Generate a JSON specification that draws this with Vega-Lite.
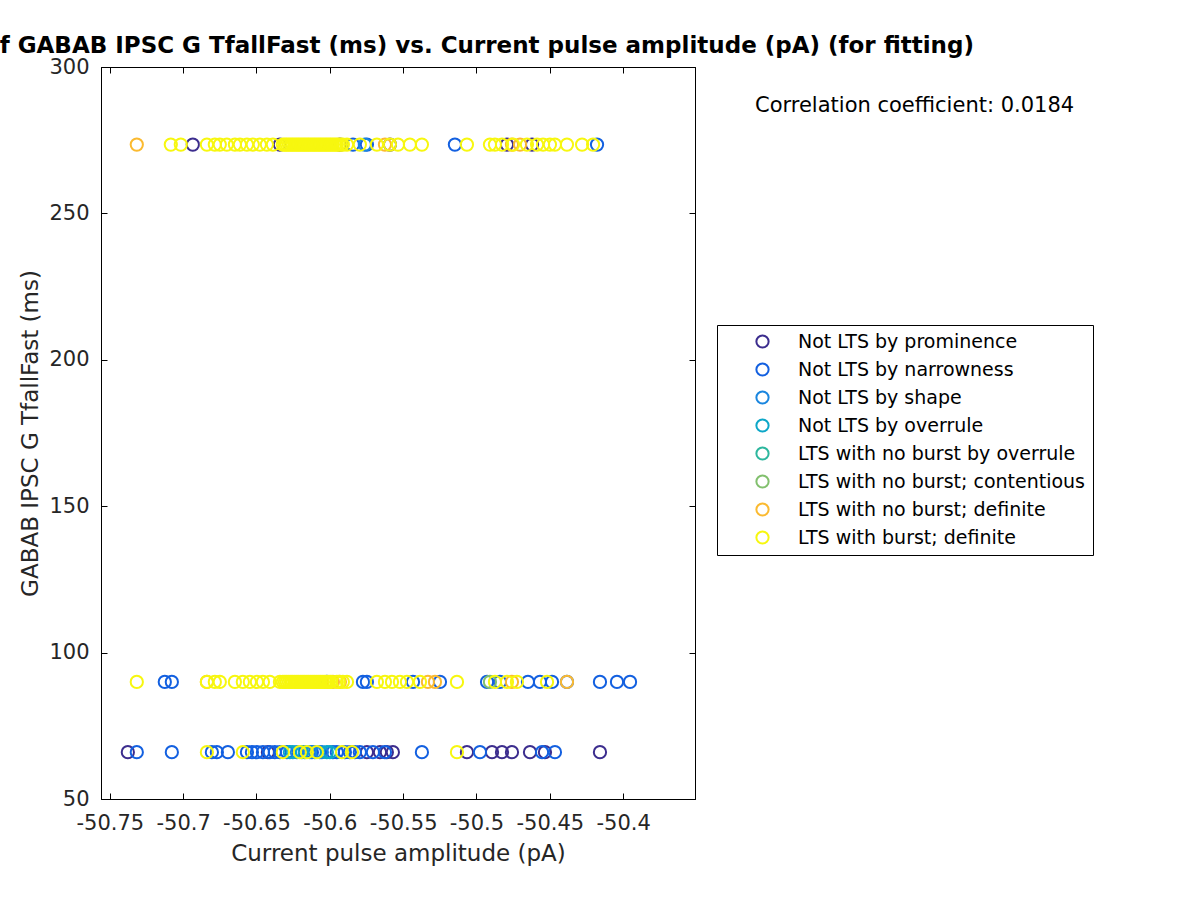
{
  "$schema": "https://vega.github.io/schema/vega-lite/v6.json",
  "width": 594,
  "height": 732,
  "autosize": {"type": "none"},
  "padding": {"left": 101, "top": 67, "right": 505, "bottom": 101},
  "background": "white",
  "title": {"text": "Scatter plot of GABAB IPSC G TfallFast (ms) vs. Current pulse amplitude (pA) (for fitting)", "fontSize": 23, "fontWeight": "bold", "font": "DejaVu Sans", "anchor": "middle", "frame": "group", "offset": -2, "color": "black"},
  "config": {
    "font": "DejaVu Sans",
    "view": {"stroke": "black", "strokeWidth": 1},
    "axis": {"grid": false, "domainColor": "black", "tickColor": "black", "labelColor": "#262626", "titleColor": "#262626", "labelFontSize": 21, "titleFontSize": 23, "titleFontWeight": "normal", "tickSize": -6}
  },
  "datasets": {
    "cats": [
      {"k": 1, "c": "Not LTS by prominence"},
      {"k": 2, "c": "Not LTS by narrowness"},
      {"k": 3, "c": "Not LTS by shape"},
      {"k": 4, "c": "Not LTS by overrule"},
      {"k": 5, "c": "LTS with no burst by overrule"},
      {"k": 6, "c": "LTS with no burst; contentious"},
      {"k": 7, "c": "LTS with no burst; definite"},
      {"k": 8, "c": "LTS with burst; definite"}
    ],
    "pts": [
      {"x": -50.6934, "y": 273.5, "k": 1}, {"x": -50.634, "y": 273.5, "k": 1}, {"x": -50.5931, "y": 273.5, "k": 1}, {"x": -50.559, "y": 273.5, "k": 1}, {"x": -50.4792, "y": 273.5, "k": 1}, {"x": -50.4621, "y": 273.5, "k": 1},
      {"x": -50.7377, "y": 66, "k": 1}, {"x": -50.6422, "y": 66, "k": 1}, {"x": -50.5747, "y": 66, "k": 1}, {"x": -50.5658, "y": 66, "k": 1}, {"x": -50.5611, "y": 66, "k": 1}, {"x": -50.557, "y": 66, "k": 1}, {"x": -50.5065, "y": 66, "k": 1}, {"x": -50.4894, "y": 66, "k": 1}, {"x": -50.4826, "y": 66, "k": 1}, {"x": -50.4758, "y": 66, "k": 1}, {"x": -50.4635, "y": 66, "k": 1}, {"x": -50.4533, "y": 66, "k": 1}, {"x": -50.4158, "y": 66, "k": 1},
      {"x": -50.5842, "y": 273.5, "k": 2}, {"x": -50.5747, "y": 273.5, "k": 2}, {"x": -50.5147, "y": 273.5, "k": 2}, {"x": -50.4178, "y": 273.5, "k": 2},
      {"x": -50.7125, "y": 90, "k": 2}, {"x": -50.7077, "y": 90, "k": 2}, {"x": -50.602, "y": 90, "k": 2}, {"x": -50.5774, "y": 90, "k": 2}, {"x": -50.5747, "y": 90, "k": 2}, {"x": -50.5433, "y": 90, "k": 2}, {"x": -50.5249, "y": 90, "k": 2}, {"x": -50.4928, "y": 90, "k": 2}, {"x": -50.484, "y": 90, "k": 2}, {"x": -50.4649, "y": 90, "k": 2}, {"x": -50.4567, "y": 90, "k": 2}, {"x": -50.4485, "y": 90, "k": 2}, {"x": -50.4383, "y": 90, "k": 2}, {"x": -50.4158, "y": 90, "k": 2}, {"x": -50.4042, "y": 90, "k": 2}, {"x": -50.3953, "y": 90, "k": 2},
      {"x": -50.7316, "y": 66, "k": 2}, {"x": -50.7077, "y": 66, "k": 2}, {"x": -50.6804, "y": 66, "k": 2}, {"x": -50.677, "y": 66, "k": 2}, {"x": -50.6695, "y": 66, "k": 2}, {"x": -50.6565, "y": 66, "k": 2}, {"x": -50.6531, "y": 66, "k": 2}, {"x": -50.6497, "y": 66, "k": 2}, {"x": -50.6456, "y": 66, "k": 2}, {"x": -50.6409, "y": 66, "k": 2}, {"x": -50.6375, "y": 66, "k": 2}, {"x": -50.634, "y": 66, "k": 2}, {"x": -50.6292, "y": 66, "k": 2}, {"x": -50.617, "y": 66, "k": 2}, {"x": -50.6122, "y": 66, "k": 2}, {"x": -50.6068, "y": 66, "k": 2}, {"x": -50.5979, "y": 66, "k": 2}, {"x": -50.5952, "y": 66, "k": 2}, {"x": -50.5897, "y": 66, "k": 2}, {"x": -50.5863, "y": 66, "k": 2}, {"x": -50.5795, "y": 66, "k": 2}, {"x": -50.5829, "y": 66, "k": 2}, {"x": -50.5706, "y": 66, "k": 2}, {"x": -50.5624, "y": 66, "k": 2}, {"x": -50.5372, "y": 66, "k": 2}, {"x": -50.4976, "y": 66, "k": 2}, {"x": -50.4553, "y": 66, "k": 2}, {"x": -50.4465, "y": 66, "k": 2},
      {"x": -50.5761, "y": 273.5, "k": 3},
      {"x": -50.6224, "y": 66, "k": 3}, {"x": -50.6136, "y": 66, "k": 3}, {"x": -50.6102, "y": 66, "k": 3}, {"x": -50.6054, "y": 66, "k": 3},
      {"x": -50.6272, "y": 66, "k": 4}, {"x": -50.6252, "y": 66, "k": 4}, {"x": -50.619, "y": 66, "k": 4}, {"x": -50.602, "y": 66, "k": 4}, {"x": -50.5999, "y": 66, "k": 4},
      {"x": -50.4908, "y": 90, "k": 6},
      {"x": -50.7316, "y": 273.5, "k": 7}, {"x": -50.5624, "y": 273.5, "k": 7}, {"x": -50.4758, "y": 273.5, "k": 7}, {"x": -50.4703, "y": 273.5, "k": 7},
      {"x": -50.6838, "y": 90, "k": 7}, {"x": -50.5979, "y": 90, "k": 7}, {"x": -50.5931, "y": 90, "k": 7}, {"x": -50.5331, "y": 90, "k": 7}, {"x": -50.5283, "y": 90, "k": 7}, {"x": -50.4758, "y": 90, "k": 7}, {"x": -50.4383, "y": 90, "k": 7},
      {"x": -50.7084, "y": 273.5, "k": 8}, {"x": -50.7016, "y": 273.5, "k": 8}, {"x": -50.6838, "y": 273.5, "k": 8}, {"x": -50.6784, "y": 273.5, "k": 8}, {"x": -50.675, "y": 273.5, "k": 8}, {"x": -50.6702, "y": 273.5, "k": 8}, {"x": -50.6647, "y": 273.5, "k": 8}, {"x": -50.6613, "y": 273.5, "k": 8}, {"x": -50.6565, "y": 273.5, "k": 8}, {"x": -50.6525, "y": 273.5, "k": 8}, {"x": -50.6477, "y": 273.5, "k": 8}, {"x": -50.6429, "y": 273.5, "k": 8}, {"x": -50.6388, "y": 273.5, "k": 8},
      {"x": -50.632, "y": 273.5, "k": 8}, {"x": -50.6306, "y": 273.5, "k": 8}, {"x": -50.6293, "y": 273.5, "k": 8}, {"x": -50.6279, "y": 273.5, "k": 8}, {"x": -50.6265, "y": 273.5, "k": 8}, {"x": -50.6252, "y": 273.5, "k": 8}, {"x": -50.6238, "y": 273.5, "k": 8}, {"x": -50.6224, "y": 273.5, "k": 8}, {"x": -50.6211, "y": 273.5, "k": 8}, {"x": -50.6197, "y": 273.5, "k": 8}, {"x": -50.6183, "y": 273.5, "k": 8}, {"x": -50.617, "y": 273.5, "k": 8}, {"x": -50.6156, "y": 273.5, "k": 8}, {"x": -50.6143, "y": 273.5, "k": 8}, {"x": -50.6129, "y": 273.5, "k": 8}, {"x": -50.6115, "y": 273.5, "k": 8}, {"x": -50.6102, "y": 273.5, "k": 8}, {"x": -50.6088, "y": 273.5, "k": 8}, {"x": -50.6074, "y": 273.5, "k": 8}, {"x": -50.6061, "y": 273.5, "k": 8}, {"x": -50.6047, "y": 273.5, "k": 8}, {"x": -50.6033, "y": 273.5, "k": 8}, {"x": -50.602, "y": 273.5, "k": 8}, {"x": -50.6006, "y": 273.5, "k": 8}, {"x": -50.5993, "y": 273.5, "k": 8}, {"x": -50.5979, "y": 273.5, "k": 8}, {"x": -50.5965, "y": 273.5, "k": 8}, {"x": -50.5952, "y": 273.5, "k": 8}, {"x": -50.5938, "y": 273.5, "k": 8}, {"x": -50.5924, "y": 273.5, "k": 8}, {"x": -50.5911, "y": 273.5, "k": 8},
      {"x": -50.5883, "y": 273.5, "k": 8}, {"x": -50.5795, "y": 273.5, "k": 8}, {"x": -50.5679, "y": 273.5, "k": 8}, {"x": -50.559, "y": 273.5, "k": 8}, {"x": -50.5535, "y": 273.5, "k": 8}, {"x": -50.5454, "y": 273.5, "k": 8}, {"x": -50.5372, "y": 273.5, "k": 8}, {"x": -50.5065, "y": 273.5, "k": 8}, {"x": -50.4908, "y": 273.5, "k": 8}, {"x": -50.4874, "y": 273.5, "k": 8}, {"x": -50.4826, "y": 273.5, "k": 8}, {"x": -50.4751, "y": 273.5, "k": 8}, {"x": -50.4656, "y": 273.5, "k": 8}, {"x": -50.4587, "y": 273.5, "k": 8}, {"x": -50.4546, "y": 273.5, "k": 8}, {"x": -50.4499, "y": 273.5, "k": 8}, {"x": -50.4465, "y": 273.5, "k": 8}, {"x": -50.4383, "y": 273.5, "k": 8}, {"x": -50.428, "y": 273.5, "k": 8}, {"x": -50.4205, "y": 273.5, "k": 8},
      {"x": -50.7316, "y": 90, "k": 8}, {"x": -50.6838, "y": 90, "k": 8}, {"x": -50.6784, "y": 90, "k": 8}, {"x": -50.675, "y": 90, "k": 8}, {"x": -50.6647, "y": 90, "k": 8}, {"x": -50.6593, "y": 90, "k": 8}, {"x": -50.6545, "y": 90, "k": 8}, {"x": -50.6497, "y": 90, "k": 8}, {"x": -50.6456, "y": 90, "k": 8}, {"x": -50.6409, "y": 90, "k": 8}, {"x": -50.634, "y": 90, "k": 8},
      {"x": -50.632, "y": 90, "k": 8}, {"x": -50.6306, "y": 90, "k": 8}, {"x": -50.6293, "y": 90, "k": 8}, {"x": -50.6279, "y": 90, "k": 8}, {"x": -50.6265, "y": 90, "k": 8}, {"x": -50.6252, "y": 90, "k": 8}, {"x": -50.6238, "y": 90, "k": 8}, {"x": -50.6224, "y": 90, "k": 8}, {"x": -50.6211, "y": 90, "k": 8}, {"x": -50.6197, "y": 90, "k": 8}, {"x": -50.6183, "y": 90, "k": 8}, {"x": -50.617, "y": 90, "k": 8}, {"x": -50.6156, "y": 90, "k": 8}, {"x": -50.6143, "y": 90, "k": 8}, {"x": -50.6129, "y": 90, "k": 8}, {"x": -50.6115, "y": 90, "k": 8}, {"x": -50.6102, "y": 90, "k": 8}, {"x": -50.6088, "y": 90, "k": 8}, {"x": -50.6074, "y": 90, "k": 8}, {"x": -50.6061, "y": 90, "k": 8}, {"x": -50.6047, "y": 90, "k": 8}, {"x": -50.6033, "y": 90, "k": 8}, {"x": -50.602, "y": 90, "k": 8}, {"x": -50.6006, "y": 90, "k": 8}, {"x": -50.5993, "y": 90, "k": 8}, {"x": -50.5952, "y": 90, "k": 8}, {"x": -50.5938, "y": 90, "k": 8}, {"x": -50.5911, "y": 90, "k": 8}, {"x": -50.5883, "y": 90, "k": 8},
      {"x": -50.5679, "y": 90, "k": 8}, {"x": -50.5624, "y": 90, "k": 8}, {"x": -50.5576, "y": 90, "k": 8}, {"x": -50.5522, "y": 90, "k": 8}, {"x": -50.5474, "y": 90, "k": 8}, {"x": -50.5385, "y": 90, "k": 8}, {"x": -50.5133, "y": 90, "k": 8}, {"x": -50.4874, "y": 90, "k": 8}, {"x": -50.4792, "y": 90, "k": 8}, {"x": -50.4724, "y": 90, "k": 8}, {"x": -50.4519, "y": 90, "k": 8},
      {"x": -50.6838, "y": 66, "k": 8}, {"x": -50.6593, "y": 66, "k": 8}, {"x": -50.632, "y": 66, "k": 8}, {"x": -50.6204, "y": 66, "k": 8}, {"x": -50.6156, "y": 66, "k": 8}, {"x": -50.6088, "y": 66, "k": 8}, {"x": -50.5917, "y": 66, "k": 8}, {"x": -50.5849, "y": 66, "k": 8}, {"x": -50.5133, "y": 66, "k": 8}
    ]
  },
  "layer": [
    {
      "data": {"name": "pts"},
      "transform": [{"lookup": "k", "from": {"data": {"name": "cats"}, "key": "k", "fields": ["c"]}}],
      "mark": {"type": "point", "shape": "circle", "filled": false, "size": 150, "strokeWidth": 2, "opacity": 1},
      "encoding": {
        "x": {"field": "x", "type": "quantitative", "scale": {"domain": [-50.756, -50.351], "nice": false, "zero": false},
          "axis": {"orient": "bottom", "values": [-50.75, -50.7, -50.65, -50.6, -50.55, -50.5, -50.45, -50.4], "labelExpr": "'' + datum.value", "labelPadding": 19, "title": "Current pulse amplitude (pA)", "titlePadding": 9}},
        "y": {"field": "y", "type": "quantitative", "scale": {"domain": [50, 300], "nice": false, "zero": false},
          "axis": {"orient": "left", "values": [50, 100, 150, 200, 250, 300], "labelPadding": 18, "title": "GABAB IPSC G TfallFast (ms)", "titlePadding": 6}},
        "color": {"field": "c", "type": "nominal",
          "scale": {"domain": ["Not LTS by prominence", "Not LTS by narrowness", "Not LTS by shape", "Not LTS by overrule", "LTS with no burst by overrule", "LTS with no burst; contentious", "LTS with no burst; definite", "LTS with burst; definite"],
            "range": ["#3c2d8e", "#1360e0", "#1a86df", "#0da7c8", "#2db79e", "#82c06e", "#fbba30", "#f7f70f"]},
          "legend": {"title": null, "orient": "none", "legendX": 616, "legendY": 258, "strokeColor": "black", "fillColor": "white", "padding": 7, "symbolOffset": 29, "labelOffset": 26, "labelFontSize": 19, "labelColor": "black", "rowPadding": 7, "symbolSize": 150, "symbolStrokeWidth": 2, "symbolType": "circle", "labelLimit": 400}}
      }
    },
    {
      "data": {"values": [{"t": "Correlation coefficient: 0.0184"}]},
      "mark": {"type": "text", "align": "left", "baseline": "middle", "fontSize": 21, "color": "black"},
      "encoding": {
        "text": {"field": "t"},
        "x": {"datum": -50.3101, "type": "quantitative", "scale": {"domain": [-50.756, -50.351], "nice": false, "zero": false},
          "axis": {"orient": "top", "values": [-50.75, -50.7, -50.65, -50.6, -50.55, -50.5, -50.45, -50.4], "labels": false, "title": null}},
        "y": {"datum": 286.8, "type": "quantitative", "scale": {"domain": [50, 300], "nice": false, "zero": false},
          "axis": {"orient": "right", "values": [50, 100, 150, 200, 250, 300], "labels": false, "title": null}}
      }
    }
  ],
  "resolve": {"axis": {"x": "independent", "y": "independent"}}
}
